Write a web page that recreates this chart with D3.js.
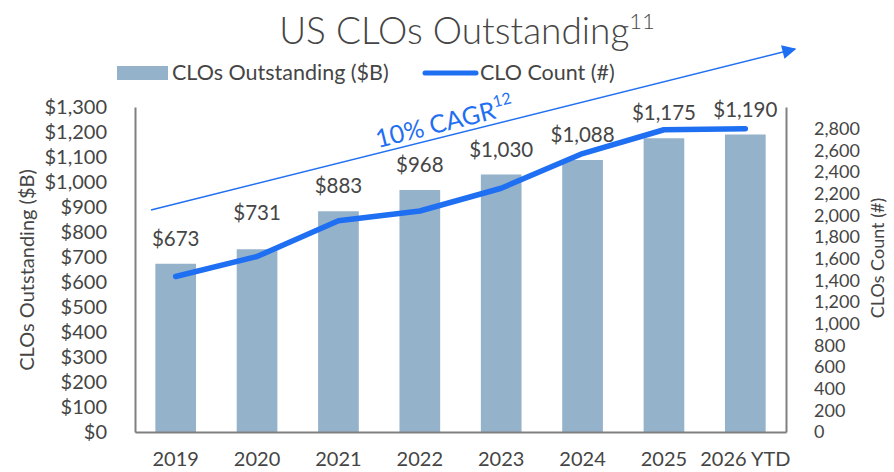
<!DOCTYPE html>
<html><head><meta charset="utf-8">
<script src="https://cdn.jsdelivr.net/npm/d3@7"></script>
<style>
body{margin:0;background:#fff;}
text{font-family:Lato,"Open Sans",sans-serif;}
</style></head>
<body><svg id="c" width="894" height="472"></svg>
<script>
const categories = ["2019","2020","2021","2022","2023","2024","2025","2026 YTD"];
const outstanding = [673, 731, 883, 968, 1030, 1088, 1175, 1190];
const cloCount = [1435, 1620, 1950, 2040, 2250, 2570, 2790, 2800];
const leftTicks = [0,100,200,300,400,500,600,700,800,900,1000,1100,1200,1300];
const rightTicks = [0,200,400,600,800,1000,1200,1400,1600,1800,2000,2200,2400,2600,2800];

const BAR = "#95b2cb", LINE = "#1f6ff2", TXT = "#454545", AX = "#808080";
const svg = d3.select("#c");
const L = 135, R = 786, B = 432, T = 107;

const x = d3.scaleBand().domain(categories).range([L, R]).paddingInner(0.5).paddingOuter(0.25);
const yL = d3.scaleLinear().domain([0, 1300]).range([B, T]);
const yR = d3.scaleLinear().domain([0, 3000]).range([B, T]);

// Title
const title = svg.append("text").attr("x", 467).attr("y", 44).attr("text-anchor", "middle")
  .attr("fill", TXT).attr("font-size", 37).attr("font-weight", 300);
title.append("tspan").text("US CLOs Outstanding");
title.append("tspan").attr("font-size", 22).attr("dy", -15).text("11");

// Legend
svg.append("rect").attr("x", 117).attr("y", 66).attr("width", 51).attr("height", 14).attr("fill", BAR);
svg.append("text").attr("x", 172).attr("y", 80).attr("fill", TXT).attr("font-size", 21.5).text("CLOs Outstanding ($B)");
svg.append("line").attr("x1", 425).attr("x2", 476).attr("y1", 73).attr("y2", 73)
  .attr("stroke", LINE).attr("stroke-width", 5).attr("stroke-linecap", "round");
svg.append("text").attr("x", 480).attr("y", 80).attr("fill", TXT).attr("font-size", 21.5).text("CLO Count (#)");

// Bars
svg.append("g").selectAll("rect").data(categories).join("rect")
  .attr("x", d => x(d)).attr("width", x.bandwidth())
  .attr("y", (d, i) => yL(outstanding[i])).attr("height", (d, i) => B - yL(outstanding[i]))
  .attr("fill", BAR);

// Axes
const fmtD = v => "$" + d3.format(",")(v);
const gl = svg.append("g").attr("transform", `translate(${L},0)`)
  .call(d3.axisLeft(yL).tickValues(leftTicks).tickFormat(fmtD).tickSize(0).tickPadding(28));
const gr = svg.append("g").attr("transform", `translate(${R},0)`)
  .call(d3.axisRight(yR).tickValues(rightTicks).tickFormat(d3.format(",")).tickSize(0).tickPadding(28));
const gb = svg.append("g").attr("transform", `translate(0,${B})`)
  .call(d3.axisBottom(x).tickSize(0).tickPadding(20));
[gl, gr, gb].forEach(g => {
  g.select(".domain").attr("stroke", AX).attr("stroke-width", 2);
  g.selectAll("text").attr("fill", TXT).attr("font-size", 20).attr("font-family", "Lato,'Open Sans',sans-serif");
});
gr.selectAll("text").attr("font-size", 18);

// Axis titles
svg.append("text").attr("transform", "translate(34,270) rotate(-90)").attr("text-anchor", "middle")
  .attr("fill", TXT).attr("font-size", 20).text("CLOs Outstanding ($B)");
svg.append("text").attr("transform", "translate(884,258) rotate(-90)").attr("text-anchor", "middle")
  .attr("fill", TXT).attr("font-size", 18).text("CLOs Count (#)");

// Count line
const cx = d => x(d) + x.bandwidth() / 2;
const line = d3.line().x((d, i) => cx(categories[i])).y(d => yR(d));
svg.append("path").datum(cloCount).attr("d", line).attr("fill", "none")
  .attr("stroke", LINE).attr("stroke-width", 5.5).attr("stroke-linejoin", "round").attr("stroke-linecap", "round");

// Data labels
const labelNudge = {"2020": 11};
svg.append("g").selectAll("text").data(categories).join("text")
  .attr("x", d => cx(d)).attr("y", (d, i) => yL(outstanding[i]) - 18 - (labelNudge[d] || 0))
  .attr("text-anchor", "middle").attr("fill", TXT).attr("font-size", 20.5)
  .text((d, i) => fmtD(outstanding[i]));

// CAGR arrow
svg.append("defs").append("marker").attr("id", "ah").attr("viewBox", "0 0 10 10")
  .attr("refX", 9).attr("refY", 5).attr("markerWidth", 16).attr("markerHeight", 14)
  .attr("markerUnits", "userSpaceOnUse").attr("orient", "auto")
  .append("path").attr("d", "M0,0 L10,5 L0,10 Z").attr("fill", LINE);
svg.append("line").attr("x1", 151).attr("y1", 210).attr("x2", 795).attr("y2", 49)
  .attr("stroke", LINE).attr("stroke-width", 1.5).attr("marker-end", "url(#ah)");
const ang = Math.atan2(49 - 210, 795 - 151) * 180 / Math.PI;
const cg = svg.append("text").attr("transform", `translate(378,148) rotate(${ang})`)
  .attr("fill", LINE).attr("font-size", 25);
cg.append("tspan").text("10% CAGR");
cg.append("tspan").attr("font-size", 16).attr("dy", -11).text("12");
</script></body></html>
